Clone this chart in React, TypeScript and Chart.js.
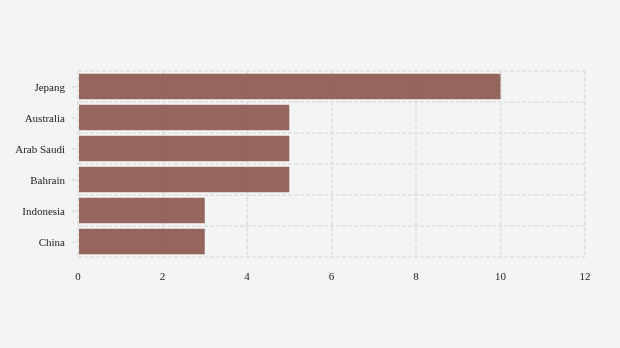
import React, { useEffect, useRef } from "react";
import { Chart, registerables } from "chart.js";

Chart.register(...registerables);

const categories = ["Jepang", "Australia", "Arab Saudi", "Bahrain", "Indonesia", "China"];
const values = [10, 5, 5, 5, 3, 3];
const xMin = 0;
const xMax = 12;
const xStep = 2;

const FONT = "'Liberation Serif', 'Times New Roman', serif";
const GRID = "#e3e3e3";

const yTickMarks = {
  id: "yTickMarks",
  afterDraw(chart: any) {
    const y = chart.scales.y;
    const ctx = chart.ctx;
    const left = chart.chartArea.left;
    ctx.save();
    ctx.strokeStyle = GRID;
    ctx.lineWidth = 2;
    for (let i = 0; i < categories.length; i++) {
      const py = Math.round(y.getPixelForValue(i));
      ctx.beginPath();
      ctx.moveTo(left - 6, py);
      ctx.lineTo(left - 1, py);
      ctx.stroke();
    }
    ctx.restore();
  },
};

export default function App() {
  const ref = useRef<HTMLCanvasElement>(null);
  useEffect(() => {
    document.body.style.margin = "0";
    document.body.style.background = "#f4f4f4";
    const chart = new Chart(ref.current!, {
      type: "bar",
      data: {
        labels: categories,
        datasets: [
          {
            data: values,
            backgroundColor: "rgba(138,86,77,0.9)",
            borderWidth: 0,
            categoryPercentage: 1,
            barPercentage: 0.82,
          },
        ],
      },
      plugins: [yTickMarks],
      options: {
        indexAxis: "y",
        animation: false,
        responsive: false,
        maintainAspectRatio: false,
        layout: { padding: { top: 71, right: 35, bottom: 61, left: 0 } },
        plugins: { legend: { display: false }, tooltip: { enabled: false } },
        scales: {
          x: {
            min: xMin,
            max: xMax,
            ticks: { stepSize: xStep, color: "#222", font: { family: FONT, size: 11 }, padding: 14 },
            grid: { color: GRID, lineWidth: 2, drawTicks: false },
            border: { display: false, dash: [4, 2] },
            afterFit: (s: any) => {
              s.height = 30;
            },
          },
          y: {
            ticks: { color: "#222", font: { family: FONT, size: 11 }, padding: 13, labelOffset: 2 },
            grid: { color: GRID, lineWidth: 2, offset: true, drawTicks: false },
            border: { display: false, dash: [4, 2] },
            afterFit: (s: any) => {
              s.width = 78;
            },
          },
        },
      } as any,
    });
    return () => chart.destroy();
  }, []);
  return (
    <canvas ref={ref} width={620} height={348} style={{ display: "block", background: "#f4f4f4" }} />
  );
}
